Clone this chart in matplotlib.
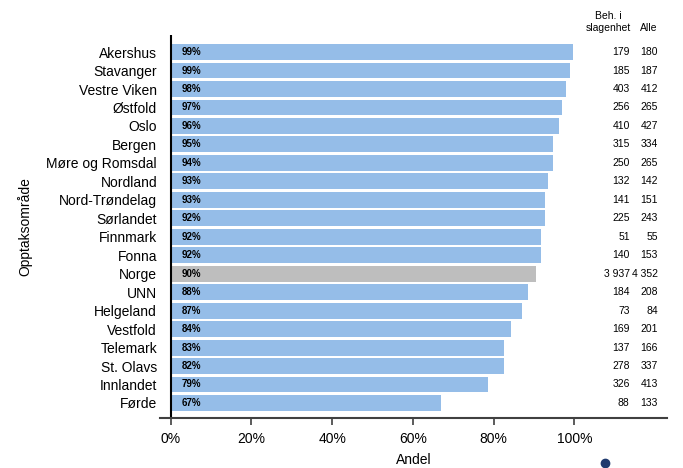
import matplotlib.pyplot as plt
from matplotlib.lines import Line2D

plt.rcParams['font.family'] = ['Liberation Sans', 'DejaVu Sans']

omraade = ['Akershus', 'Stavanger', 'Vestre Viken', 'Østfold', 'Oslo', 'Bergen',
           'Møre og Romsdal', 'Nordland', 'Nord-Trøndelag', 'Sørlandet', 'Finnmark',
           'Fonna', 'Norge', 'UNN', 'Helgeland', 'Vestfold', 'Telemark', 'St. Olavs',
           'Innlandet', 'Førde']
andel = [99.6, 99.0, 98.0, 97.0, 96.2, 94.8, 94.7, 93.5, 92.7, 92.7, 91.8,
         91.6, 90.5, 88.5, 86.9, 84.3, 82.6, 82.5, 78.7, 67.0]
etikett = ['99%', '99%', '98%', '97%', '96%', '95%', '94%', '93%', '93%', '92%',
           '92%', '92%', '90%', '88%', '87%', '84%', '83%', '82%', '79%', '67%']
beh = ['179', '185', '403', '256', '410', '315', '250', '132', '141', '225', '51',
       '140', '3 937', '184', '73', '169', '137', '278', '326', '88']
alle = ['180', '187', '412', '265', '427', '334', '265', '142', '151', '243', '55',
        '153', '4 352', '208', '84', '201', '166', '337', '413', '133']

fig = plt.figure(figsize=(6.83, 4.68), dpi=100)
ax = fig.add_axes([0.234, 0.107, 0.743, 0.818])

y = list(range(len(omraade)))
farger = ['#BEBEBE' if o == 'Norge' else '#95BDE8' for o in omraade]
ax.barh(y, andel, height=0.86, color=farger)

for i in y:
    ax.text(2.8, i, etikett[i], va='center', ha='left', fontsize=7, fontweight='bold')
    ax.text(113.7, i, beh[i], va='center', ha='right', fontsize=7.5)
    ax.text(120.7, i, alle[i], va='center', ha='right', fontsize=7.5)

ax.text(108.3, -1.05, 'Beh. i\nslagenhet', ha='center', va='bottom', fontsize=7.5,
        linespacing=1.2)
ax.text(118.5, -1.05, 'Alle', ha='center', va='bottom', fontsize=7.5)

ax.set_xlim(-2.7, 123)
ax.set_ylim(19.81, -0.92)
ax.axvline(0, color='black', lw=1.5)

ax.set_yticks(y)
ax.set_yticklabels(omraade, fontsize=10)
ax.tick_params(axis='y', length=0, pad=2)
ax.set_xticks([0, 20, 40, 60, 80, 100])
ax.set_xticklabels(['0%', '20%', '40%', '60%', '80%', '100%'], fontsize=10)
ax.tick_params(axis='x', length=5, color='#404040', width=1.2, pad=5)

for s in ['top', 'right', 'left']:
    ax.spines[s].set_visible(False)
ax.spines['bottom'].set_color('#404040')
ax.spines['bottom'].set_linewidth(1.5)

ax.set_xlabel('Andel', fontsize=10, labelpad=5)
ax.set_ylabel('Opptaksområde', fontsize=10, labelpad=10)

fig.add_artist(Line2D([605 / 683], [1 - 463 / 468], marker='o', markersize=6,
                      color='#1F3A6E', transform=fig.transFigure))

fig.savefig('out.png', dpi=100)
